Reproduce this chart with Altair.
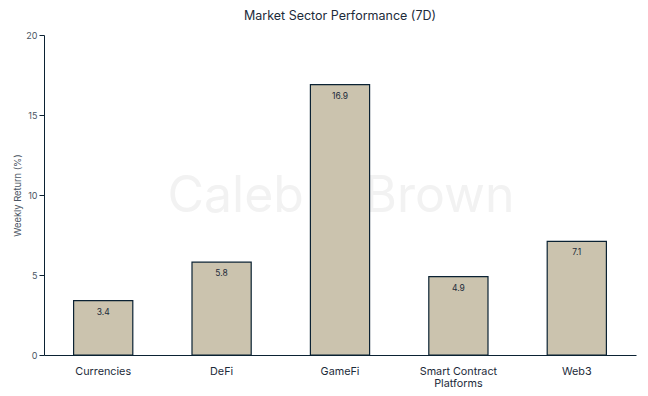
import altair as alt
import pandas as pd

sectors = ["Currencies", "DeFi", "GameFi", "Smart Contract Platforms", "Web3"]
returns = [3.4, 5.8, 16.9, 4.9, 7.1]

df = pd.DataFrame({"sector": sectors, "ret": returns})
df["lab"] = df["ret"].map(lambda v: f"{v:.1f}")

FONT = "Inter"
TXT = "#1d2b3a"

base = alt.Chart(df)

xenc = alt.X("sector:N", sort=sectors, title=None,
             scale=alt.Scale(paddingInner=0.5, paddingOuter=0.25),
             axis=alt.Axis(labelAngle=0, ticks=False, labelPadding=10, labelFontSize=10.8,
                           labelColor=TXT, domainColor="#0b2233", labelFont=FONT,
                           labelExpr="datum.label == 'Smart Contract Platforms' ? ['Smart Contract','Platforms'] : datum.label"))
yenc = alt.Y("ret:Q", title="Weekly  Return (%)",
             scale=alt.Scale(domain=[0, 20]),
             axis=alt.Axis(values=[0, 5, 10, 15, 20], grid=False, tickSize=5, tickColor="#0b2233",
                           domainColor="#0b2233", labelFontSize=9, labelColor="#4a5563",
                           labelFont=FONT, titleFont=FONT, titleFontSize=9.3, titleFontWeight="normal",
                           titleColor="#4a5563", titlePadding=3))

watermark = alt.Chart(pd.DataFrame({"t": ["Caleb & Brown"]})).mark_text(
    font=FONT, fontSize=50, color="#f2f2f2", align="center", baseline="middle"
).encode(text="t:N", x=alt.value(297), y=alt.value(162))

bars = base.mark_bar(fill="#cbc3ae", stroke="#0b2233", strokeWidth=1.2).encode(x=xenc, y=yenc)

labels = base.mark_text(font=FONT, fontSize=8.5, color=TXT, baseline="middle", dy=11).encode(
    x=alt.X("sector:N", sort=sectors), y="ret:Q", text="lab:N")

chart = alt.layer(watermark, bars, labels).properties(
    width=592, height=320,
    title=alt.TitleParams("Market Sector Performance (7D)", font=FONT, fontSize=12.5,
                          fontWeight="normal", color=TXT, offset=9),
    autosize=alt.AutoSizeParams(type="none"),
    padding={"left": 36, "top": 27, "right": 4, "bottom": 38},
).configure_view(stroke=None)

chart.save("out.html", embed_options={"renderer": "svg", "actions": False})
